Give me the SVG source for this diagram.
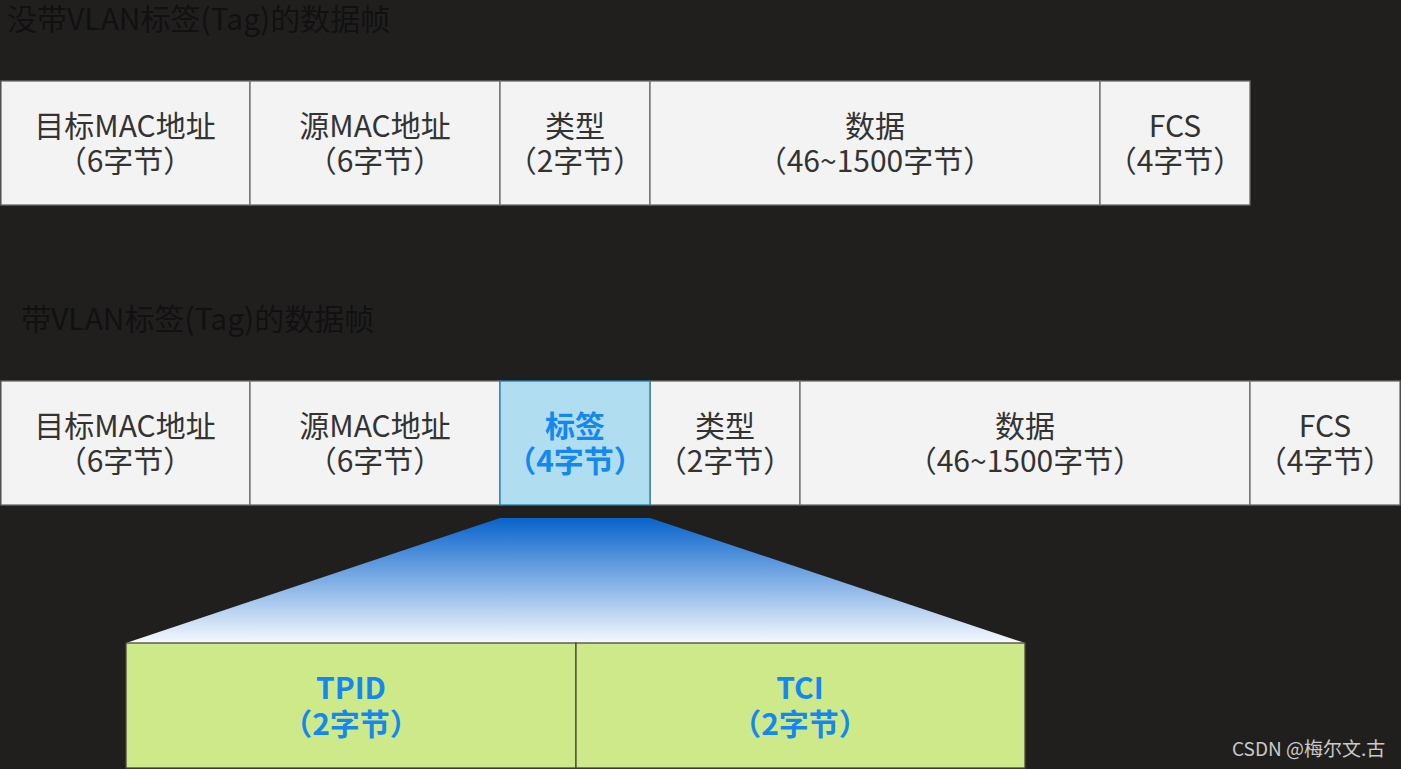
<svg xmlns="http://www.w3.org/2000/svg" width="1401" height="769" viewBox="0 0 1401 769">
<style>
text{font-family:"Noto Sans CJK SC","Liberation Sans",sans-serif;font-size:30px;text-anchor:middle;fill:#333333}
.title{text-anchor:start;fill:#111111;font-size:30px}
.cell{fill:#f3f3f3;stroke:#6b6b6b;stroke-width:1.3}
.tag{fill:#b0ddf0;stroke:#1f7fae;stroke-width:1.3}
.green{fill:#cde98a;stroke:#4a4a3a;stroke-width:1.3}
.b{font-weight:bold;fill:#1488ee}
.wm{font-size:19px;fill:#c9c9c9;text-anchor:start}
</style>
<defs>
<linearGradient id="g" x1="0" y1="0" x2="0" y2="1">
<stop offset="0" stop-color="#0863cb"/>
<stop offset="1" stop-color="#f6f9fe"/>
</linearGradient>
</defs>
<rect x="0" y="0" width="1401" height="769" fill="#201f1e"/>
<text class="title" x="7" y="30">没带VLAN标签(Tag)的数据帧</text>
<text class="title" x="21" y="330">带VLAN标签(Tag)的数据帧</text>

<g id="row1">
<g id="r1-dst"><rect class="cell" x="1" y="81" width="249" height="124"/><text x="125" y="137">目标MAC地址<tspan x="125" dy="35">（6字节）</tspan></text></g>
<g id="r1-src"><rect class="cell" x="250" y="81" width="250" height="124"/><text x="375" y="137">源MAC地址<tspan x="375" dy="35">（6字节）</tspan></text></g>
<g id="r1-type"><rect class="cell" x="500" y="81" width="150" height="124"/><text x="575" y="137">类型<tspan x="575" dy="35">（2字节）</tspan></text></g>
<g id="r1-data"><rect class="cell" x="650" y="81" width="450" height="124"/><text x="875" y="137">数据<tspan x="875" dy="35">（46~1500字节）</tspan></text></g>
<g id="r1-fcs"><rect class="cell" x="1100" y="81" width="150" height="124"/><text x="1175" y="137">FCS<tspan x="1175" dy="35">（4字节）</tspan></text></g>
</g>

<g id="row2">
<g id="r2-dst"><rect class="cell" x="1" y="381" width="249" height="124"/><text x="125" y="437">目标MAC地址<tspan x="125" dy="35">（6字节）</tspan></text></g>
<g id="r2-src"><rect class="cell" x="250" y="381" width="250" height="124"/><text x="375" y="437">源MAC地址<tspan x="375" dy="35">（6字节）</tspan></text></g>
<g id="r2-type"><rect class="cell" x="650" y="381" width="150" height="124"/><text x="725" y="437">类型<tspan x="725" dy="35">（2字节）</tspan></text></g>
<g id="r2-data"><rect class="cell" x="800" y="381" width="450" height="124"/><text x="1025" y="437">数据<tspan x="1025" dy="35">（46~1500字节）</tspan></text></g>
<g id="r2-fcs"><rect class="cell" x="1250" y="381" width="150" height="124"/><text x="1325" y="437">FCS<tspan x="1325" dy="35">（4字节）</tspan></text></g>
<g id="r2-tag"><rect class="tag" x="500" y="381" width="150" height="124"/><text class="b" x="575" y="437">标签<tspan x="575" dy="35">（4字节）</tspan></text></g>
</g>

<g id="connectors">
<polygon points="500,518 650,518 1025,643 126,643" fill="url(#g)"/>
</g>

<g id="tpid"><rect class="green" x="126" y="643" width="450" height="125"/><text class="b" x="351" y="699">TPID<tspan x="351" dy="36">（2字节）</tspan></text></g>
<g id="tci"><rect class="green" x="576" y="643" width="449" height="125"/><text class="b" x="800" y="699">TCI<tspan x="800" dy="36">（2字节）</tspan></text></g>

<text class="wm" x="1232" y="756">CSDN @梅尔文.古</text>
</svg>
